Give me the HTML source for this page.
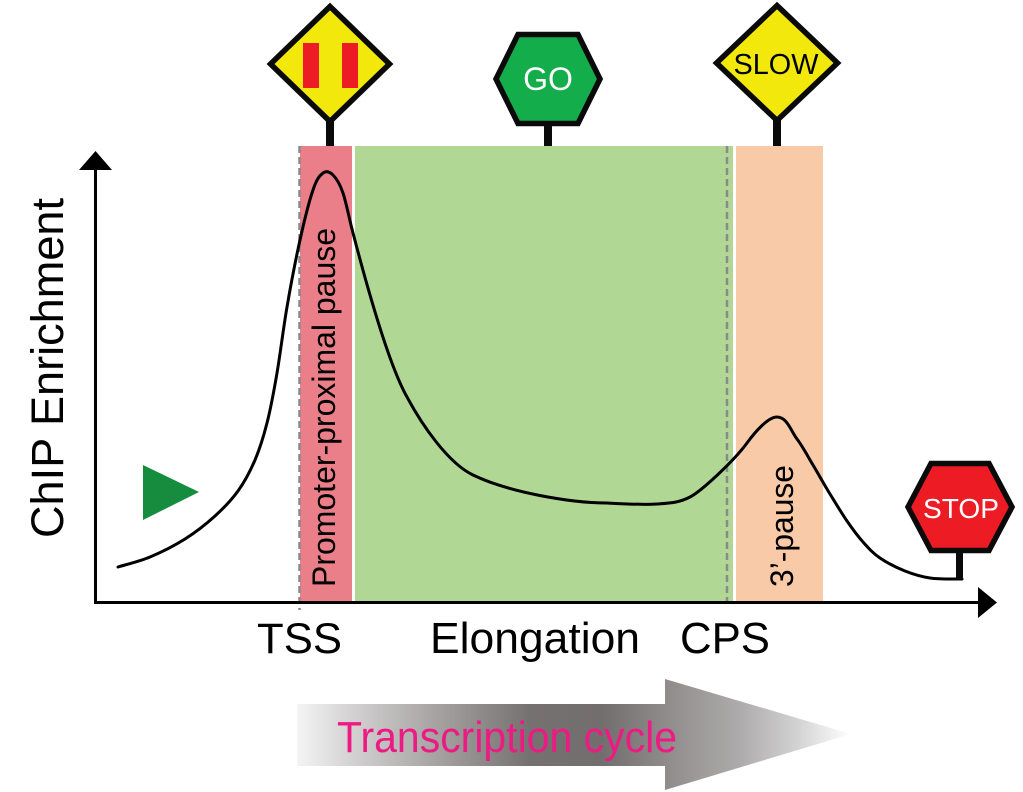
<!DOCTYPE html>
<html><head><meta charset="utf-8"><style>
html,body{margin:0;padding:0;background:#fff;}
svg{display:block;}
text{font-family:"Liberation Sans",Arial,sans-serif;}
</style></head><body>
<svg width="1023" height="792" viewBox="0 0 1023 792" xmlns="http://www.w3.org/2000/svg">
<defs>
<linearGradient id="ag" x1="297" y1="0" x2="851" y2="0" gradientUnits="userSpaceOnUse">
<stop offset="0" stop-color="#f4f4f4"/>
<stop offset="0.1" stop-color="#d3d1d1"/>
<stop offset="0.25" stop-color="#a6a3a3"/>
<stop offset="0.42" stop-color="#767171"/>
<stop offset="0.55" stop-color="#736e6e"/>
<stop offset="0.66" stop-color="#8e8a8a"/>
<stop offset="0.8" stop-color="#adabab"/>
<stop offset="0.9" stop-color="#d2d1d1"/>
<stop offset="1" stop-color="#ffffff"/>
</linearGradient>
</defs>

<!-- shaded regions -->
<rect x="300" y="146" width="52" height="455" fill="#ea7f89"/>
<rect x="355" y="146" width="378" height="455" fill="#b0d894"/>
<rect x="736" y="146" width="87" height="455" fill="#f8caa8"/>

<!-- dashed lines -->
<line x1="299.5" y1="146" x2="299.5" y2="610" stroke="#8a8a8a" stroke-width="2.5" stroke-dasharray="7,4"/>
<line x1="727" y1="146" x2="727" y2="608" stroke="#8a8a8a" stroke-width="2.5" stroke-dasharray="7,4"/>

<!-- axes -->
<line x1="95.5" y1="168" x2="95.5" y2="604" stroke="#000" stroke-width="3"/>
<polygon points="95.5,151 79,170 112,170" fill="#000"/>
<line x1="94" y1="602.5" x2="980" y2="602.5" stroke="#000" stroke-width="3"/>
<polygon points="997,602.5 978,587 978,618" fill="#000"/>

<!-- labels vertical -->
<text transform="translate(63,538) rotate(-90)" font-size="45" fill="#000" textLength="340" lengthAdjust="spacingAndGlyphs">ChIP Enrichment</text>
<text transform="translate(335,587) rotate(-90)" font-size="32" fill="#000" textLength="359" lengthAdjust="spacingAndGlyphs">Promoter-proximal pause</text>
<text transform="translate(793,587) rotate(-90)" font-size="32" fill="#000" textLength="122" lengthAdjust="spacingAndGlyphs">3’-pause</text>

<!-- green triangle -->
<polygon points="143,465 143,520 199,492" fill="#168c3e"/>

<!-- curve -->
<path d="M118,567
C123.3,565.3 138.8,561.7 150,557
C161.2,552.3 174.2,545.8 185,539
C195.8,532.2 206.2,524 215,516
C223.8,508 231.3,500.3 238,491
C244.7,481.7 250.2,471.3 255,460
C259.8,448.7 263.3,437.5 267,423
C270.7,408.5 273.7,392.3 277,373
C280.3,353.7 283.2,329.2 287,307
C290.8,284.8 295.7,259.5 300,240
C304.3,220.5 309.2,201.2 313,190
C316.8,178.8 319.7,175.5 323,173
C326.3,170.5 329.7,171.7 333,175
C336.3,178.3 339.7,183.3 343,193
C346.3,202.7 349,218 353,233
C357,248 385,358 407,397
C422,425 448,463 473,475
C508,492 570,503 607,503
C626.5,504 643.2,505 657,504
C670.8,503 679,502.7 690,497
C701,491.3 733,462 747,443
C755,432 768,417 777,417
C787,417 791,431 797,439
C803,447 807.5,455.8 813,465
C818.5,474.2 824.3,484.7 830,494
C835.7,503.3 841.5,513 847,521
C852.5,529 857.5,535.8 863,542
C868.5,548.2 873,553.2 880,558
C887,562.8 896.7,567.7 905,571
C913.3,574.3 921.3,576.7 930,578
C938.7,579.3 950,579 962,579" fill="none" stroke="#000" stroke-width="3" stroke-linejoin="round" stroke-linecap="round"/>

<!-- posts -->
<rect x="326" y="118" width="8" height="28" fill="#0a0a0a"/>
<rect x="544" y="120" width="8" height="26" fill="#0a0a0a"/>
<rect x="773" y="117" width="8" height="29" fill="#0a0a0a"/>
<rect x="956" y="548" width="7" height="31" fill="#0a0a0a"/>

<!-- pause sign -->
<polygon points="330,6.5 389.5,64 330,121.5 270.5,64" fill="#f2e80c" stroke="#0a0a0a" stroke-width="5.5" stroke-linejoin="miter"/>
<rect x="303" y="43" width="16" height="45" fill="#ed1c24"/>
<rect x="342" y="43" width="16" height="45" fill="#ed1c24"/>

<!-- GO sign -->
<polygon points="518,34.5 578,34.5 600,79 578,123.5 518,123.5 496,79" fill="#13ad4b" stroke="#0a0a0a" stroke-width="5.5" stroke-linejoin="miter"/>
<text x="548" y="90" font-size="32" fill="#fff" text-anchor="middle">GO</text>

<!-- SLOW sign -->
<polygon points="777,5.5 837.5,63 777,120.5 716.5,63" fill="#f2e80c" stroke="#0a0a0a" stroke-width="5.5" stroke-linejoin="miter"/>
<text x="776" y="74" font-size="29" fill="#000" text-anchor="middle" textLength="85" lengthAdjust="spacingAndGlyphs">SLOW</text>

<!-- STOP sign -->
<polygon points="931,463.5 989,463.5 1012,507 989,550.5 931,550.5 908,507" fill="#ed1c24" stroke="#0a0a0a" stroke-width="5.5" stroke-linejoin="miter"/>
<text x="961" y="518" font-size="28" fill="#fff" text-anchor="middle" textLength="76" lengthAdjust="spacingAndGlyphs">STOP</text>

<!-- x labels -->
<text x="257" y="653" font-size="43" fill="#000" textLength="85" lengthAdjust="spacingAndGlyphs">TSS</text>
<text x="430" y="653" font-size="44" fill="#000" textLength="210" lengthAdjust="spacingAndGlyphs">Elongation</text>
<text x="680" y="653" font-size="44" fill="#000" textLength="90" lengthAdjust="spacingAndGlyphs">CPS</text>

<!-- transcription arrow -->
<polygon points="297,704 665,704 665,679 851,734 665,790 665,766 297,766" fill="url(#ag)"/>
<text x="337" y="752" font-size="44" fill="#ec1a82" textLength="340" lengthAdjust="spacingAndGlyphs">Transcription cycle</text>
</svg>
</body></html>
